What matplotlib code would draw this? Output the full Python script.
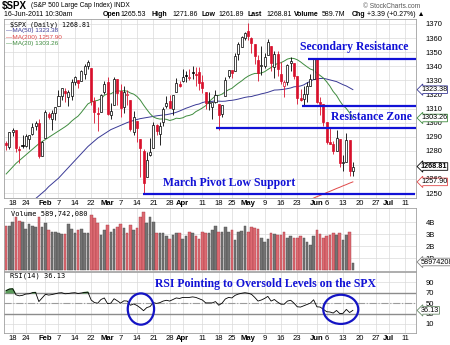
import numpy as np
import pandas as pd
import matplotlib
matplotlib.use('Agg')
import matplotlib.pyplot as plt
from matplotlib.patches import Ellipse

plt.rcParams['font.family'] = ['Liberation Sans', 'DejaVu Sans']

# trading calendar (NYSE holidays removed)
holidays = ['2011-01-17', '2011-02-21', '2011-04-22', '2011-05-30', '2011-07-04']
days = pd.bdate_range('2011-01-13', '2011-07-15')
days = days[~days.isin(pd.to_datetime(holidays))]

prev_close = 1285.96

opens = [1285.8, 1282.9, 1293.2, 1294.5, 1280.9, 1283.6, 1283.3, 1288.2, 1291.9, 1297.5,
         1299.6, 1276.5, 1289.1, 1305.9, 1302.8, 1307.0, 1311.9, 1318.8, 1322.5, 1318.1,
         1318.7, 1328.7, 1330.4, 1329.5, 1334.4, 1340.4, 1338.9, 1315.4, 1307.1, 1307.3,
         1321.6, 1328.6, 1305.5, 1312.4, 1330.7, 1322.7, 1311.1, 1319.9, 1315.7, 1293.4,
         1301.2, 1288.5, 1279.5, 1261.6, 1276.7, 1281.7, 1298.3, 1292.2, 1300.6, 1311.8,
         1315.5, 1309.4, 1321.9, 1327.4, 1329.5, 1333.6, 1332.0, 1335.9, 1334.8, 1336.2,
         1329.0, 1321.9, 1314.0, 1311.1, 1314.5, 1313.4, 1305.9, 1319.1, 1333.2, 1337.1,
         1336.8, 1348.4, 1353.9, 1360.1, 1365.2, 1359.8, 1355.9, 1344.2, 1340.2, 1340.2,
         1348.3, 1354.5, 1339.4, 1348.7, 1334.8, 1326.1, 1328.5, 1342.4, 1342.0, 1333.1,
         1317.7, 1316.4, 1320.6, 1325.7, 1331.1, 1345.2, 1314.6, 1312.9, 1300.3, 1286.3,
         1284.6, 1279.6, 1288.6, 1271.3, 1272.2, 1287.9, 1265.5]
highs = [1286.7, 1293.2, 1296.1, 1294.6, 1283.4, 1291.2, 1291.9, 1291.3, 1299.7, 1301.3,
         1302.7, 1287.2, 1308.9, 1307.6, 1308.6, 1311.0, 1322.9, 1324.9, 1324.5, 1322.8,
         1330.8, 1332.9, 1330.4, 1337.6, 1341.5, 1344.1, 1338.9, 1317.9, 1310.9, 1320.0,
         1329.4, 1332.1, 1314.2, 1332.3, 1331.1, 1327.7, 1325.7, 1323.2, 1315.7, 1308.4,
         1301.2, 1288.5, 1280.9, 1278.9, 1288.9, 1300.6, 1299.3, 1300.5, 1311.3, 1319.2,
         1319.7, 1319.5, 1331.7, 1329.8, 1337.9, 1336.7, 1338.2, 1340.0, 1339.4, 1339.5,
         1333.8, 1321.9, 1321.4, 1314.3, 1322.9, 1313.4, 1312.7, 1332.7, 1337.5, 1337.6,
         1349.6, 1357.5, 1361.7, 1364.6, 1370.6, 1360.8, 1355.9, 1348.0, 1354.4, 1349.4,
         1359.4, 1354.5, 1351.1, 1350.5, 1343.3, 1330.4, 1341.8, 1346.8, 1342.0, 1333.1,
         1323.7, 1325.9, 1328.5, 1334.6, 1345.2, 1345.2, 1318.0, 1312.9, 1300.3, 1296.2,
         1287.0, 1294.5, 1288.6, 1277.0, 1292.5, 1287.9, 1271.9]
lows = [1280.5, 1281.1, 1290.2, 1278.9, 1271.3, 1282.1, 1282.5, 1281.1, 1291.0, 1294.4,
        1275.1, 1276.5, 1289.1, 1302.6, 1294.8, 1301.7, 1311.9, 1316.0, 1314.9, 1311.7,
        1316.1, 1326.6, 1324.6, 1329.5, 1331.0, 1338.1, 1312.3, 1299.6, 1294.3, 1307.3,
        1320.6, 1305.4, 1302.6, 1312.4, 1312.6, 1303.9, 1306.9, 1312.3, 1294.2, 1291.0,
        1286.4, 1261.1, 1249.1, 1261.6, 1276.2, 1281.7, 1291.0, 1284.1, 1297.7, 1310.2,
        1310.2, 1305.3, 1321.9, 1325.0, 1328.9, 1329.1, 1330.0, 1330.9, 1326.0, 1322.9,
        1321.1, 1309.5, 1309.2, 1302.4, 1313.7, 1294.7, 1303.9, 1319.1, 1332.0, 1331.7,
        1336.8, 1344.2, 1353.6, 1358.7, 1358.6, 1349.5, 1341.5, 1329.2, 1333.6, 1338.6,
        1348.3, 1336.4, 1332.0, 1333.4, 1327.3, 1318.5, 1326.6, 1336.4, 1330.7, 1312.9,
        1315.0, 1311.8, 1314.4, 1325.7, 1331.1, 1313.7, 1305.6, 1297.9, 1284.9, 1284.7,
        1277.4, 1279.6, 1268.3, 1265.6, 1272.2, 1261.9, 1261.9]
closes = [1283.8, 1293.2, 1295.0, 1281.9, 1280.3, 1283.4, 1290.8, 1291.2, 1296.6, 1299.5,
          1276.3, 1286.1, 1307.6, 1304.0, 1307.1, 1310.9, 1319.1, 1324.6, 1320.9, 1321.9,
          1329.1, 1332.3, 1328.0, 1336.3, 1340.4, 1343.0, 1315.4, 1307.4, 1306.1, 1319.9,
          1327.2, 1306.3, 1308.4, 1330.9, 1321.2, 1310.1, 1321.8, 1320.0, 1295.1, 1304.3,
          1296.4, 1281.9, 1256.9, 1273.7, 1279.2, 1298.4, 1293.8, 1297.5, 1309.7, 1313.8,
          1310.2, 1319.4, 1328.3, 1325.8, 1332.4, 1332.9, 1332.6, 1335.5, 1333.5, 1328.2,
          1324.5, 1314.2, 1314.4, 1314.5, 1319.7, 1305.1, 1312.6, 1330.4, 1337.4, 1335.3,
          1347.2, 1355.7, 1360.5, 1363.6, 1361.2, 1356.6, 1347.3, 1335.1, 1340.2, 1346.3,
          1357.2, 1342.1, 1348.7, 1337.8, 1329.5, 1328.9, 1340.7, 1343.6, 1333.3, 1317.4,
          1316.3, 1320.5, 1325.7, 1331.1, 1345.2, 1314.6, 1312.9, 1300.2, 1286.2, 1284.9,
          1279.6, 1289.0, 1271.0, 1271.8, 1287.9, 1265.4, 1268.8]

# volume in billions of shares
volume_b = [3.7, 3.67, 4.0, 4.4, 4.1, 4.0, 3.4, 3.8, 3.7, 3.6,
            4.4, 3.55, 3.9, 3.3, 3.2, 3.2, 3.1, 3.0, 3.0, 3.8,
            3.4, 3.05, 3.3, 3.4, 3.05, 3.1, 4.6, 4.3, 3.9, 2.9,
            3.3, 3.75, 3.2, 3.4, 3.55, 3.8, 3.5, 3.05, 3.75, 3.3,
            3.5, 4.4, 4.8, 3.9, 4.4, 4.0, 3.1, 3.1, 3.05, 2.8,
            2.55, 2.9, 3.05, 3.05, 2.6, 2.8, 3.2, 3.1, 2.8, 2.6,
            3.2, 3.05, 3.05, 3.3, 3.65, 3.2, 3.2, 3.6, 3.2, 3.3,
            2.5, 3.2, 3.25, 3.65, 3.15, 3.55, 3.5, 3.45, 2.65, 2.3,
            2.55, 3.05, 3.0, 2.9, 2.9, 3.15, 2.7, 2.8, 2.65, 2.7,
            2.8, 2.7, 2.35, 2.1, 2.85, 3.3, 3.0, 2.7, 2.8, 2.9,
            3.05, 2.9, 3.05, 2.5, 2.9, 3.2, 0.59]

ma20 = [1263.5, 1266.0, 1268.5, 1271.0, 1273.0, 1275.0, 1277.0, 1279.0, 1281.0, 1283.0,
        1285.0, 1286.5, 1288.0, 1289.5, 1291.0, 1292.5, 1294.0, 1295.5, 1297.0, 1298.7,
        1301.0, 1302.9, 1304.6, 1307.3, 1310.3, 1313.3, 1314.5, 1315.3, 1315.8, 1316.8,
        1319.4, 1320.4, 1320.4, 1321.8, 1322.5, 1322.4, 1322.6, 1322.3, 1321.0, 1320.2,
        1318.5, 1316.0, 1312.5, 1309.3, 1306.3, 1304.0, 1303.0, 1302.5, 1302.6, 1302.3,
        1301.5, 1302.1, 1303.1, 1302.9, 1303.4, 1304.6, 1305.1, 1305.9, 1307.8, 1309.0,
        1310.4, 1312.0, 1314.9, 1316.9, 1319.0, 1319.3, 1320.2, 1321.9, 1323.3, 1324.3,
        1326.2, 1328.0, 1329.6, 1331.5, 1333.0, 1334.1, 1334.9, 1334.9, 1335.2, 1336.1,
        1337.7, 1339.1, 1340.8, 1342.0, 1342.5, 1343.7, 1345.1, 1345.7, 1345.5, 1344.6,
        1343.1, 1341.3, 1339.6, 1338.0, 1337.2, 1335.1, 1333.4, 1331.6, 1328.9, 1325.8,
        1322.0, 1319.3, 1315.4, 1312.1, 1310.0, 1306.9, 1303.3]
ma50 = [1228.0, 1230.0, 1232.0, 1234.0, 1236.0, 1238.0, 1240.0, 1242.0, 1244.0, 1246.0,
        1248.0, 1250.0, 1252.0, 1254.5, 1256.5, 1258.5, 1260.5, 1263.0, 1265.5, 1268.0,
        1270.5, 1273.0, 1275.5, 1278.0, 1280.5, 1283.0, 1285.0, 1287.0, 1289.0, 1290.5,
        1292.0, 1293.5, 1295.0, 1296.0, 1297.0, 1298.0, 1299.0, 1300.0, 1300.8, 1301.5,
        1302.2, 1302.8, 1303.2, 1303.6, 1304.0, 1304.4, 1304.8, 1305.1, 1305.4, 1305.6,
        1306.1, 1306.6, 1307.3, 1308.2, 1309.2, 1310.2, 1311.0, 1311.9, 1312.7, 1313.2,
        1314.2, 1314.8, 1314.9, 1315.1, 1315.4, 1315.2, 1315.1, 1315.2, 1315.6, 1315.8,
        1316.2, 1316.7, 1317.3, 1317.9, 1318.3, 1318.5, 1319.2, 1319.7, 1320.4, 1320.9,
        1321.5, 1322.3, 1323.1, 1323.2, 1323.4, 1323.7, 1324.1, 1324.6, 1325.4, 1325.6,
        1326.0, 1326.8, 1328.2, 1329.3, 1330.6, 1331.0, 1331.3, 1331.4, 1330.9, 1330.3,
        1329.7, 1329.1, 1328.0, 1326.9, 1326.0, 1324.7, 1323.4]
# MA(200) sits below the panel until early June
ma200 = [np.nan] * 88 + [1240.5, 1241.5, 1242.5, 1243.5, 1244.5, 1245.4, 1246.4, 1247.4,
                         1248.3, 1249.3, 1250.3, 1251.2, 1252.2, 1253.2, 1254.1, 1255.1,
                         1256.0, 1257.0, 1257.9]

rsi = [74.0, 77.0, 77.5, 66.0, 64.0, 65.0, 67.5, 68.0, 70.0, 70.5,
       53.0, 60.0, 67.0, 65.5, 66.5, 68.0, 69.5, 70.0, 68.0, 68.5,
       69.5, 70.0, 68.5, 69.5, 70.5, 71.0, 56.0, 51.0, 50.0, 57.0,
       60.0, 49.0, 50.0, 58.5, 54.5, 50.0, 54.5, 54.0, 46.0, 48.5,
       45.5, 41.0, 35.5, 41.5, 43.5, 51.0, 49.5, 51.0, 54.0, 55.5,
       54.0, 57.0, 60.0, 59.0, 61.0, 61.0, 61.0, 62.0, 61.0, 58.5,
       56.0, 50.5, 50.5, 50.5, 53.0, 46.0, 50.0, 58.0, 61.0, 60.0,
       65.0, 67.5, 69.0, 70.0, 69.0, 67.0, 61.0, 54.0, 56.0, 59.0,
       63.0, 54.0, 57.0, 52.0, 48.0, 48.0, 54.0, 55.5, 50.0, 43.0,
       42.5, 45.0, 47.5, 50.0, 56.5, 43.0, 42.5, 38.0, 33.5, 33.0,
       31.0, 36.0, 30.0, 30.5, 38.0, 32.0, 36.1]

tick_dates = ['2011-01-18', '2011-01-24', '2011-02-01', '2011-02-07', '2011-02-14',
              '2011-02-22', '2011-03-01', '2011-03-07', '2011-03-14', '2011-03-21',
              '2011-03-28', '2011-04-01', '2011-04-11', '2011-04-18', '2011-04-25',
              '2011-05-02', '2011-05-09', '2011-05-16', '2011-05-23', '2011-06-01',
              '2011-06-06', '2011-06-13', '2011-06-20', '2011-06-27', '2011-07-01',
              '2011-07-11']
tick_labels = ['18', '24', 'Feb', '7', '14', '22', 'Mar', '7', '14', '21', '28', 'Apr',
               '11', '18', '25', 'May', '9', '16', '23', 'Jun', '6', '13', '20', '27',
               'Jul', '11']
months = ['Feb', 'Mar', 'Apr', 'May', 'Jun', 'Jul']

RED = '#d8102c'
NAVY = '#3a3a96'
GREEN = '#3f8c3f'
MA200_RED = '#e04848'
BLUE = '#1212d6'
W, H = 450.0, 345.0

fig = plt.figure(figsize=(4.5, 3.45), dpi=100)


def panel(top, bottom):
    return fig.add_axes([4 / W, 1 - bottom / H, 412 / W, (bottom - top) / H])


ax_p = panel(19, 198)
ax_v = panel(208, 271)
ax_r = panel(272, 333)

tick_pos = [days.get_loc(pd.Timestamp(d)) for d in tick_dates]
for ax in (ax_p, ax_v, ax_r):
    ax.set_xlim(-0.66, 125.3)
    ax.set_xticks(tick_pos)
    ax.set_xticklabels(tick_labels)
    for t in ax.get_xticklabels():
        if t.get_text() in months:
            t.set_fontweight('bold')
    ax.grid(True, color='#dadada', lw=0.5)
    ax.set_axisbelow(True)
    ax.yaxis.tick_right()
    ax.tick_params(length=0, labelsize=5.5, pad=1.5)
    ax.tick_params(axis='y', pad=7)
    for s in ax.spines.values():
        s.set_color('#a0a0a0')
        s.set_linewidth(0.6)
ax_v.tick_params(labelbottom=False)

# ---- price panel ----
x = np.arange(len(closes))
o, h, l, c = map(np.array, (opens, highs, lows, closes))
prev = np.concatenate([[prev_close], c[:-1]])
col = np.where(c < prev, RED, 'black')
face = np.where(c < o, col, 'white')
ax_p.vlines(x, l, h, colors=col, lw=0.6, zorder=3)
ax_p.bar(x, np.maximum(np.abs(c - o), 0.4), bottom=np.minimum(o, c), width=0.62,
         color=face, edgecolor=col, linewidth=0.5, zorder=4)
ax_p.plot(x, ma50, color=NAVY, lw=0.7, zorder=2)
ax_p.plot(x, ma20, color=GREEN, lw=0.7, zorder=2)
ax_p.plot(x, ma200, color=MA200_RED, lw=0.7, zorder=2)
ax_p.set_ylim(1246.45, 1373.55)
ax_p.set_yticks(np.arange(1250, 1371, 10))

# annotations
ax_p.hlines(1345.5, 92.4, 125.3, colors=BLUE, lw=1.6, zorder=6)
ax_p.hlines(1311.8, 90.5, 125.3, colors=BLUE, lw=1.6, zorder=6)
ax_p.hlines(1296.0, 64.2, 125.3, colors=BLUE, lw=1.6, zorder=6)
ax_p.hlines(1249.2, 41.8, 125.0, colors=BLUE, lw=1.6, zorder=6)
serif = dict(color=BLUE, family=['Liberation Serif', 'DejaVu Serif'], weight='bold',
             fontsize=8.5, va='center', ha='left', zorder=7)
ax_p.text(89.9, 1353.7, 'Secondary Resistance', **serif)
ax_p.text(99.3, 1304.0, 'Resistance Zone', **serif)
ax_p.text(48.0, 1257.0, 'March Pivot Low Support', **serif)


def tag(ax, val, txt, ec, bold=False):
    ax.text(1.012, val, txt, transform=ax.get_yaxis_transform(), fontsize=5.2,
            va='center', ha='left', weight='bold' if bold else 'normal', zorder=10,
            clip_on=False,
            bbox=dict(boxstyle='larrow,pad=0.04', fc='white', ec=ec, lw=0.6))


tag(ax_p, 1323.38, '1323.38', NAVY)
tag(ax_p, 1303.26, '1303.26', GREEN)
tag(ax_p, 1268.81, '1268.81', 'black', bold=True)
tag(ax_p, 1257.90, '1257.90', MA200_RED)

# ---- volume panel ----
vcol = np.where(c < prev, '#dc6a72', '#747474')
vedge = np.where(c < prev, '#a83a44', '#4a4a4a')
ax_v.bar(x, volume_b, width=0.8, color=vcol, edgecolor=vedge, linewidth=0.3)
ax_v.set_ylim(-0.08, 5.17)
ax_v.set_yticks([1, 2, 3, 4])
ax_v.set_yticklabels(['1B', '2B', '3B', '4B'])
tag(ax_v, 0.67, '589742080', '#808080')

# ---- RSI panel ----
r = np.array(rsi)
ax_r.plot(x, r, color='black', lw=0.6, zorder=4)
ax_r.fill_between(x, r, 70, where=r > 70, color='#5a9a5a', interpolate=True, zorder=3)
ax_r.axhline(70, color='#8c8c8c', lw=1.0, zorder=2)
ax_r.axhline(30, color='#8c8c8c', lw=1.0, zorder=2)
ax_r.axhline(50, color='#9c9c9c', lw=0.8, ls='-.', zorder=2)
ax_r.set_ylim(-7.3, 109.8)
ax_r.set_yticks([10, 30, 50, 70, 90])
tag(ax_r, rsi[-1], '36.13', '#6a8a6a')
for cx, cy, ew, eh in ((41.2, 38.7, 8.05, 60), (102.3, 38.1, 10.7, 56)):
    ax_r.add_patch(Ellipse((cx, cy), ew, eh, fill=False, ec='#1414c4', lw=1.6,
                           zorder=6, clip_on=False))
ax_r.text(45.5, 87.0, 'RSI Pointing to Oversold Levels on the SPX', **serif)

# ---- header and legends ----
def ftext(px, py, s, **kw):
    fig.text(px / W, 1 - py / H, s, va='center', ha='left', **kw)


ftext(2, 5.5, '$SPX', weight='bold', fontsize=7)
ftext(31, 5.5, '(S&P 500 Large Cap Index) INDX', fontsize=4.8)
ftext(4, 15, '16-Jun-2011 10:30am', fontsize=5)
ftext(363, 6, '\u00a9 StockCharts.com', fontsize=4.8, color='#555555')
quote = [(103, 'Open', True), (120, '1265.53', False), (152, 'High', True),
         (172, '1271.86', False), (202, 'Low', True), (218, '1261.89', False),
         (248, 'Last', True), (266, '1268.81', False), (294, 'Volume', True),
         (322, '589.7M', False), (352, 'Chg', True), (367, '+3.39 (+0.27%) \u25b2', False)]
for qx, qs, qb in quote:
    ftext(qx, 15, qs, fontsize=5, weight='bold' if qb else 'normal')

mono = ['DejaVu Sans Mono']
ftext(10, 24.5, '$SPX (Daily) 1268.81', family=mono, fontsize=4.8)
ftext(6, 30.5, '\u2014MA(50) 1323.38', fontsize=4.6, color=NAVY)
ftext(6, 37, '\u2014MA(200) 1257.90', fontsize=4.6, color=MA200_RED)
ftext(6, 43.5, '\u2014MA(20) 1303.26', fontsize=4.6, color=GREEN)
ftext(11, 214, 'Volume 589,742,080', family=mono, fontsize=5)
ftext(10, 276, 'RSI(14) 36.13', family=mono, fontsize=5)

fig.savefig('out.png', dpi=100)
